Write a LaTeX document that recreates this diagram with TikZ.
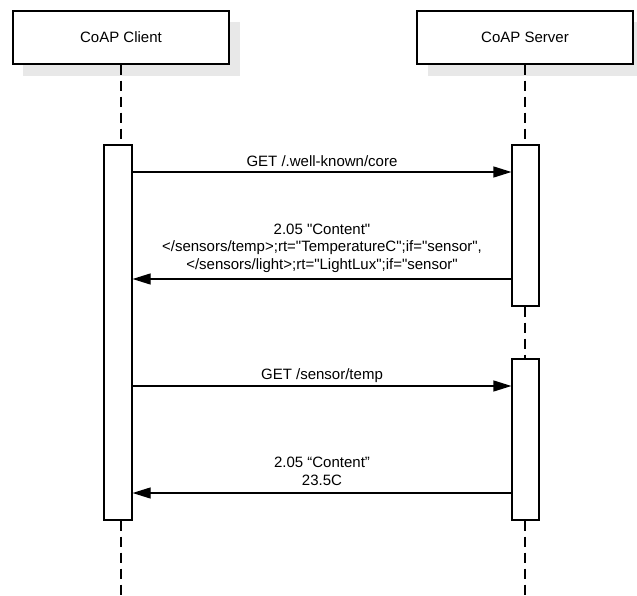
\documentclass[tikz,border=0pt]{standalone}
\usepackage{fontspec}
\setmainfont{Liberation Sans}
\newfontfamily\lsans{Liberation Sans}
\usetikzlibrary{arrows.meta}
\definecolor{shadowgray}{RGB}{232,232,232}
\begin{document}
\begin{tikzpicture}[x=1pt,y=-1pt,
  every node/.style={font=\lsans\fontsize{15}{17.5}\selectfont},
  head/.style={draw=black, line width=1.2pt, fill=white, minimum width=216pt, minimum height=53pt, inner sep=0pt},
  act/.style={draw=black, line width=1.2pt, fill=white, inner sep=0pt},
  life/.style={draw=black, line width=1.2pt, dash pattern=on 10pt off 6pt},
  msg/.style={draw=black, line width=1.2pt, -{Triangle[length=18pt,width=11pt]}},
  lbl/.style={inner sep=0pt, align=center}]
\useasboundingbox (0,0) rectangle (637,596);
% shadows of the header boxes
\fill[shadowgray] (23,22) rectangle (240,76);
\fill[shadowgray] (428,22) rectangle (637,76);
% headers
\node[head] (client) at (121,37.5) {CoAP Client};
\node[head] (server) at (525,37.5) {CoAP Server};
% lifeline end points
\coordinate (cend) at (121,596);
\coordinate (send) at (525,596);
% activation boxes
\node[act, minimum width=28pt, minimum height=375pt] (ca) at (118,332.5) {};
\node[act, minimum width=27pt, minimum height=161pt] (sa1) at (525.5,225.5) {};
\node[act, minimum width=27pt, minimum height=161pt] (sa2) at (525.5,439.5) {};
% lifelines
\draw[life] (client.south) -- (client.south |- ca.north);
\draw[life] (client.south |- ca.south) -- (cend);
\draw[life] (server.south) -- (server.south |- sa1.north);
\draw[life] (server.south |- sa1.south) -- (server.south |- sa2.north);
\draw[life] (server.south |- sa2.south) -- (send);
% messages
\draw[msg] (ca.east |- 0,172) -- (sa1.west |- 0,172);
\draw[msg] (sa1.west |- 0,279) -- (ca.east |- 0,279);
\draw[msg] (ca.east |- 0,386) -- (sa2.west |- 0,386);
\draw[msg] (sa2.west |- 0,493) -- (ca.east |- 0,493);
% labels
\node[lbl, anchor=base] (l1) at (322,167) {GET /.well-known/core};
\node[lbl] (l2) at (322,248) {2.05 "Content"\\</sensors/temp>;rt="TemperatureC";if="sensor",\\</sensors/light>;rt="LightLux";if="sensor"};
\node[lbl, anchor=base] (l3) at (322,379.7) {GET /sensor/temp};
\node[lbl] (l4) at (322,471.5) {2.05 “Content”\\23.5C};
\end{tikzpicture}
\end{document}
